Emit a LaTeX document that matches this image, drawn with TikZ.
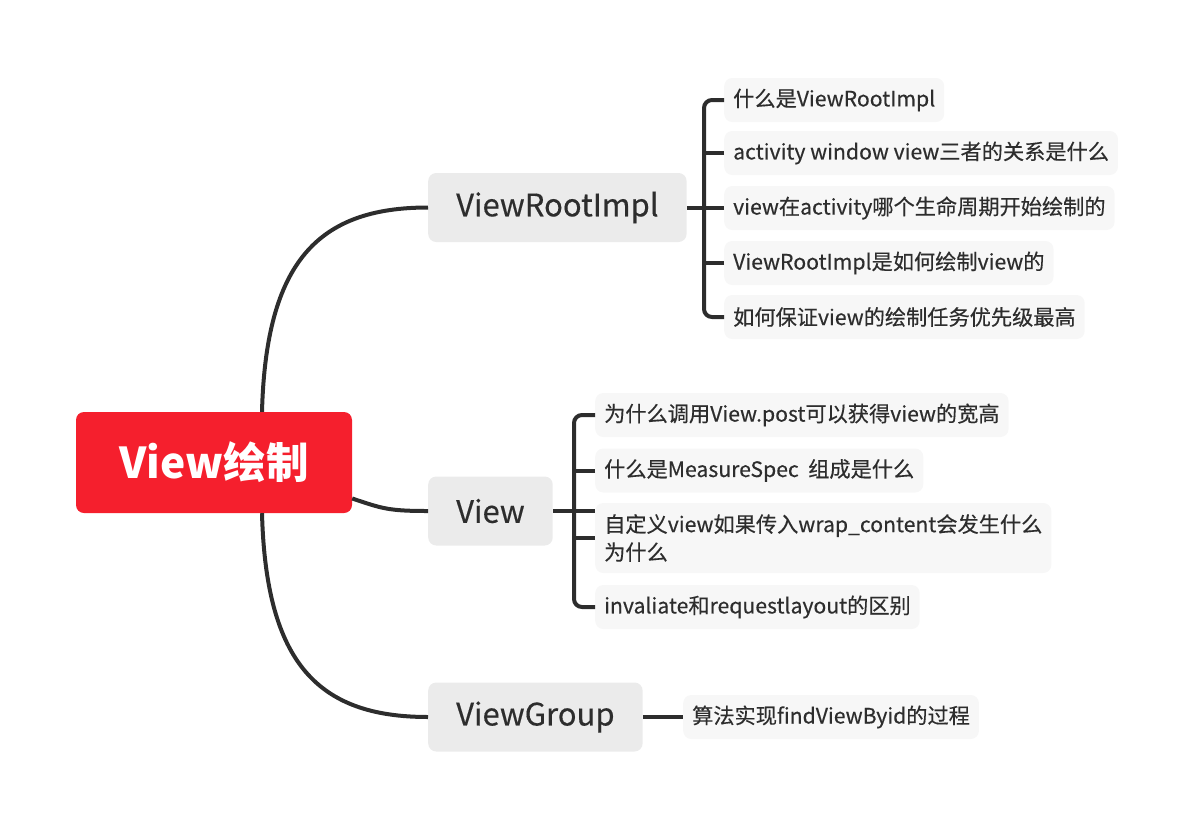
\documentclass[tikz,border=0pt]{standalone}
\usepackage{fontspec}
\setmainfont{Noto Sans CJK SC}
\newfontfamily\medfont{Noto Sans CJK SC}[FakeBold=0.35]
\usetikzlibrary{positioning}

\definecolor{rootred}{RGB}{245,31,45}
\definecolor{topicgray}{RGB}{235,235,235}
\definecolor{subgray}{RGB}{247,247,247}
\definecolor{inkgray}{RGB}{45,45,45}

\tikzset{
    link/.style={draw=inkgray, line width=4pt, line cap=butt},
    rootbox/.style={fill=rootred, rounded corners=8pt, text=white, font=\fontsize{42.5}{48}\selectfont\bfseries,
        minimum width=276pt, minimum height=101pt},
    topic/.style={fill=topicgray, rounded corners=8pt, text=inkgray, font=\medfont\fontsize{31}{34}\selectfont,
        anchor=west, inner xsep=28pt, minimum height=69pt},
    subtopic/.style={fill=subgray, rounded corners=8pt, text=inkgray, font=\medfont\fontsize{21.2}{28}\selectfont,
        anchor=west, inner xsep=9pt, minimum height=44pt, align=left}
}

\begin{document}
\begin{tikzpicture}[x=1pt, y=-1pt]

    % page frame
    \useasboundingbox (0,0) rectangle (1200,828);

    % root and main topics
    \node[rootbox] (root) at (214,462.5) {View绘制};
    \node[topic] (vri) at (428,207.5) {ViewRootImpl};
    \node[topic] (view) at (428,511) {View};
    \node[topic] (vgroup) at (428,717) {ViewGroup};

    % ViewRootImpl subtopics
    \node[subtopic] (vri1) at (724,100) {什么是ViewRootImpl};
    \node[subtopic] (vri2) at (724,153) {activity window view三者的关系是什么};
    \node[subtopic] (vri3) at (724,208) {view在activity哪个生命周期开始绘制的};
    \node[subtopic] (vri4) at (724,263) {ViewRootImpl是如何绘制view的};
    \node[subtopic] (vri5) at (724,317) {如何保证view的绘制任务优先级最高};

    % View subtopics
    \node[subtopic] (view1) at (595,415) {为什么调用View.post可以获得view的宽高};
    \node[subtopic] (view2) at (595,470.5) {什么是MeasureSpec\ \ 组成是什么};
    \node[subtopic, minimum height=70pt] (view3) at (595,538) {自定义view如果传入wrap\_content会发生什么\\为什么};
    \node[subtopic] (view4) at (595,607) {invaliate和requestlayout的区别};

    % ViewGroup subtopic
    \node[subtopic] (vgroup1) at (683,717) {算法实现findViewByid的过程};

    % curves from the root
    \draw[link] ([xshift=48pt]root.north) .. controls +(4,-150) and +(-110,0) .. (vri.west);
    \draw[link] ([yshift=-36pt]root.east) .. controls +(30,10) and +(-40,0) .. (view.west);
    \draw[link] ([xshift=48pt]root.south) .. controls +(4,150) and +(-110,0) .. (vgroup.west);

    % ViewRootImpl bracket
    \draw[link] (vri.east) -- (vri.east -| vri3.west);
    \draw[link, rounded corners=8pt] (vri1.west) -- ++(-20,0) |- (vri5.west);
    \foreach \n in {vri2,vri3,vri4}
        \draw[link] (\n.west) -- ++(-20,0);

    % View bracket
    \draw[link] (view.east) -- (view.east -| view1.west);
    \draw[link, rounded corners=8pt] (view1.west) -- ++(-21,0) |- (view4.west);
    \foreach \n in {view2,view3}
        \draw[link] (\n.west) -- ++(-21,0);

    % ViewGroup line
    \draw[link] (vgroup.east) -- (vgroup1.west);

\end{tikzpicture}
\end{document}
